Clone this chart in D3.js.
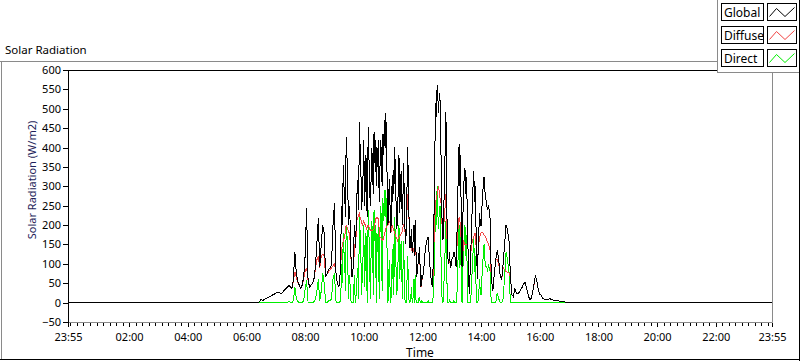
<!DOCTYPE html>
<html>
<head>
<meta charset="utf-8">
<script src="https://cdn.jsdelivr.net/npm/d3@7"></script>
<style>
  body { margin: 0; background: #fff; }
  svg text { font-family: "Noto Sans", sans-serif; }
</style>
</head>
<body>
<svg id="chart" width="800" height="361"></svg>
<script>
// samples logged every 3 minutes from 06:00, zero outside that window
const sampleStart = "06:00:00";
const sampleStepMin = 3;

const globalRad = [
  0,0,0,0,0,0,0,0,0,3,8,5,8,10,12,14,16,18,20,22,24,26,
  27,25,23,28,33,36,40,45,40,36,60,131,75,55,45,36,45,66,120,243,
  60,40,45,49,60,92,150,217,92,150,200,179,66,75,84,90,97,200,256,
  80,50,40,84,250,355,278,428,330,250,161,66,100,170,250,316,466,350,273,419,
  300,247,453,290,320,342,440,420,402,419,342,380,436,470,488,300,273,230,300,342,
  402,260,213,380,300,247,359,200,187,402,204,160,127,200,213,66,100,144,40,60,
  92,140,161,170,100,58,40,250,514,561,488,522,300,161,299,492,127,100,92,110,
  120,127,92,250,410,380,92,300,346,325,150,23,135,250,340,300,120,
  144,230,200,280,325,273,247,251,230,60,30,75,110,135,110,70,58,100,150,200,187,161,
  66,20,15,36,25,23,27,33,40,48,53,35,23,8,10,23,45,71,55,32,
  22,19,10,9,8,8,9,10,8,7,6,6,5,4,3,3,2,2,1,1,0
];

const diffuseRad = [
  0,0,0,0,0,0,0,0,0,3,8,5,8,10,12,14,16,18,20,22,24,26,
  27,25,23,28,33,36,40,44,40,36,55,80,65,52,45,36,45,60,80,90,
  58,40,45,49,58,85,110,120,90,120,125,120,66,75,80,85,90,95,100,
  80,50,40,80,140,160,170,200,190,180,150,66,100,150,210,220,230,215,200,210,
  200,190,200,190,185,185,190,215,220,215,170,165,160,175,190,200,205,210,200,190,
  180,170,160,170,175,180,200,190,187,280,204,150,127,140,140,66,100,130,40,60,
  92,140,160,165,100,58,40,170,260,280,300,270,250,161,220,280,127,100,92,110,
  120,127,92,180,220,200,92,160,150,150,150,23,130,160,170,180,120,
  140,170,180,180,175,170,160,150,140,60,30,75,110,110,100,70,58,90,85,80,78,77,
  66,20,15,36,25,23,27,33,40,48,53,35,23,8,10,23,45,68,55,32,
  22,19,10,9,8,8,9,10,8,7,6,6,5,4,3,3,2,2,1,1,0
];

const directRad = [
  0,0,0,0,0,0,0,0,0,0,0,0,0,0,0,0,0,0,0,0,0,0,
  0,0,0,0,0,1,1,2,1,0,5,40,10,3,0,0,0,5,35,58,
  2,0,0,0,2,8,30,60,5,30,75,50,0,0,5,5,10,60,75,
  5,0,0,5,100,180,110,200,130,70,10,0,0,20,40,90,230,130,70,200,
  100,50,240,100,130,160,240,200,180,200,170,210,270,290,290,100,70,20,100,150,
  220,90,50,200,120,60,160,10,0,120,0,10,0,60,70,0,0,15,0,0,
  0,0,0,5,0,0,0,80,250,300,190,250,50,0,80,210,0,0,0,0,
  0,0,0,70,200,180,0,150,200,175,0,0,10,90,170,120,0,
  5,60,20,100,150,100,90,100,90,0,0,0,0,25,10,0,0,10,65,130,110,80,
  0,0,0,0,0,0,0,0,0,0,0,0,0,0,0,0,0,0,0,0,
  0,0,0,0,0,0,0,0,0,0,0,0,0,0,0,0,0,0,0,0,0
];

// extra samples in the busy midday stretch, half a step after the main ones
const midStart = "09:04:30";
const globalMid = [
  60,45,55,180,200,300,220,380,200,230,
  90,80,200,140,290,240,400,240,330,250,
  380,220,380,250,400,280,360,300,350,260,
  420,300,380,400,420,200,320,180,260,280,
  350,190,300,230,340,200,300,150,300,260,
  140,190,150,120,150,80,120,80,70,
  75,115,150,165,130,75,
  45,150,400,480,530,540,420,180,240,400,
  300,110,130,95,115,130,105,170,350,300,
  200,200,320,280,250,60,80,200,300,260,
  200,60,190,200,240,300,290,260,240,240,
  140
];
const diffuseMid = [
  60,45,55,110,150,165,185,195,185,165,
  90,80,125,140,215,225,220,210,205,205,
  195,195,195,188,185,188,200,218,218,190,
  168,162,168,182,195,200,208,180,200,185,
  175,165,165,172,178,190,195,150,240,240,
  140,150,140,120,140,80,110,80,60,
  75,115,150,165,130,75,
  45,110,220,270,290,285,260,180,200,250,
  200,110,115,95,115,125,105,140,200,210,
  150,120,155,150,150,60,80,145,165,175,
  150,60,155,175,180,178,172,165,155,145,
  100
];
const directMid = [
  0,0,0,40,50,130,30,180,10,60,
  0,0,70,0,70,10,180,20,120,40,
  180,0,180,10,210,20,160,0,130,10,
  250,30,210,220,230,0,110,0,60,20,
  170,20,130,60,160,10,100,0,60,20,
  0,40,5,0,10,0,10,0,5,
  0,0,0,0,0,0,
  0,30,170,200,230,240,150,0,40,140,
  100,0,10,0,0,5,0,20,150,90,
  40,70,160,120,90,0,0,50,130,80,
  50,0,30,20,60,120,110,90,80,90,
  30
];

const seriesNames = ["Global", "Diffuse", "Direct"];
const seriesColors = ["#000000", "#f24444", "#00ee00"];
const yTickValues = [-50, 0, 50, 100, 150, 200, 250, 300, 350, 400, 450, 500, 550, 600];
const xTickLabels = ["23:55", "02:00", "04:00", "06:00", "08:00", "10:00", "12:00",
                     "14:00", "16:00", "18:00", "20:00", "22:00", "23:55"];

const parse = d3.timeParse("%Y-%m-%d %H:%M:%S");
const tStart = parse("2000-01-01 23:55:00");
const tEnd = parse("2000-01-02 23:55:00");
const t0 = parse("2000-01-02 " + sampleStart);
const tMid = parse("2000-01-02 " + midStart);

function buildSeries(values, mids) {
  const pts = [{ t: tStart, v: 0 }, { t: tEnd, v: 0 }];
  values.forEach((v, i) => pts.push({ t: d3.timeSecond.offset(t0, i * sampleStepMin * 60), v: v }));
  mids.forEach((v, i) => pts.push({ t: d3.timeSecond.offset(tMid, i * sampleStepMin * 60), v: v }));
  return pts.sort((a, b) => a.t - b.t);
}

const series = [
  buildSeries(globalRad, globalMid),
  buildSeries(diffuseRad, diffuseMid),
  buildSeries(directRad, directMid)
];

const plot = { left: 68, right: 772, top: 70, bottom: 322 };

const svg = d3.select("#chart");

const x = d3.scaleTime().domain([tStart, tEnd]).range([plot.left, plot.right]);
const y = d3.scaleLinear().domain([-50, 600]).range([plot.bottom, plot.top]);

// outer panel frame
svg.append("line").attr("x1", 0).attr("x2", 717).attr("y1", 61.5).attr("y2", 61.5).attr("stroke", "#8a8a8a");
svg.append("line").attr("x1", 1.5).attr("x2", 1.5).attr("y1", 61).attr("y2", 360).attr("stroke", "#8a8a8a");
svg.append("line").attr("x1", 0).attr("x2", 800).attr("y1", 359.5).attr("y2", 359.5).attr("stroke", "#000");
svg.append("line").attr("x1", 799.5).attr("x2", 799.5).attr("y1", 0).attr("y2", 361).attr("stroke", "#000");

svg.append("text").attr("x", 5).attr("y", 54).attr("font-size", "11.5px").attr("fill", "#000").text("Solar Radiation");

// plot border: gray right/bottom, black top/left
svg.append("line").attr("x1", plot.right + 0.5).attr("x2", plot.right + 0.5).attr("y1", plot.top).attr("y2", plot.bottom + 0.5).attr("stroke", "#8a8a8a");
svg.append("line").attr("x1", plot.left).attr("x2", plot.right + 0.5).attr("y1", plot.bottom + 0.5).attr("y2", plot.bottom + 0.5).attr("stroke", "#8a8a8a");
svg.append("line").attr("x1", plot.left).attr("x2", plot.right + 1).attr("y1", plot.top + 0.5).attr("y2", plot.top + 0.5).attr("stroke", "#000");

svg.append("clipPath").attr("id", "plotClip")
  .append("rect").attr("x", plot.left).attr("y", plot.top).attr("width", plot.right - plot.left).attr("height", plot.bottom - plot.top);

const line = d3.line().x(d => x(d.t)).y(d => y(d.v));

const drawOrder = [2, 1, 0]; // direct under diffuse under global
const lines = svg.append("g").attr("clip-path", "url(#plotClip)");
drawOrder.forEach(k => {
  lines.append("path")
    .datum(series[k])
    .attr("fill", "none")
    .attr("stroke", seriesColors[k])
    .attr("stroke-width", 1)
    .attr("shape-rendering", "crispEdges")
    .attr("d", line);
});

// y axis
const yAxis = svg.append("g")
  .attr("transform", `translate(${plot.left},0)`)
  .call(d3.axisLeft(y).tickValues(yTickValues).tickSize(5).tickPadding(2));
yAxis.select(".domain").remove();
yAxis.selectAll("line").attr("stroke", "#000").attr("shape-rendering", "crispEdges");
yAxis.selectAll("text").attr("font-size", "11px").attr("fill", "#000").attr("font-family", "Noto Sans");
svg.append("line").attr("x1", plot.left + 0.5).attr("x2", plot.left + 0.5).attr("y1", plot.top).attr("y2", plot.bottom + 3).attr("stroke", "#000");

// x axis: labelled every 2 h, minor ticks every 2h/9
const majorTicks = xTickLabels.map((lab, i) => {
  if (i === 0) return tStart;
  if (i === xTickLabels.length - 1) return tEnd;
  return parse("2000-01-02 " + lab + ":00");
});
const minorTicks = d3.range(0, 24 * 60, 40 / 3)
  .map(m => d3.timeSecond.offset(parse("2000-01-02 00:00:00"), Math.round(m * 60)))
  .filter(t => t < tEnd);

const xMinor = svg.append("g")
  .attr("transform", `translate(0,${plot.bottom + 1})`)
  .call(d3.axisBottom(x).tickValues(minorTicks).tickSize(3).tickFormat(""));
xMinor.select(".domain").remove();
xMinor.selectAll("line").attr("stroke", "#000").attr("shape-rendering", "crispEdges");

const xMajor = svg.append("g")
  .attr("transform", `translate(0,${plot.bottom + 1})`)
  .call(d3.axisBottom(x).tickValues(majorTicks).tickSize(4).tickPadding(6)
    .tickFormat((d, i) => xTickLabels[i]));
xMajor.select(".domain").remove();
xMajor.selectAll("line").attr("stroke", "#000").attr("shape-rendering", "crispEdges");
xMajor.selectAll("text").attr("font-size", "11px").attr("fill", "#000").attr("font-family", "Noto Sans");

svg.append("text")
  .attr("x", (plot.left + plot.right) / 2).attr("y", 357)
  .attr("text-anchor", "middle").attr("font-size", "12px").attr("fill", "#000")
  .text("Time");

svg.append("text")
  .attr("transform", "translate(36,180) rotate(-90)")
  .attr("text-anchor", "middle").attr("font-size", "11px").attr("fill", "#1e1e5a")
  .text("Solar Radiation (W/m2)");

// legend, drawn over the top-right corner of the plot
const legend = svg.append("g");
legend.append("rect").attr("x", 717).attr("y", 0).attr("width", 83).attr("height", 72).attr("fill", "#fff");
legend.append("line").attr("x1", 717.5).attr("x2", 717.5).attr("y1", 0).attr("y2", 72).attr("stroke", "#8a8a8a");
legend.append("line").attr("x1", 717).attr("x2", 800).attr("y1", 72.5).attr("y2", 72.5).attr("stroke", "#8a8a8a");
legend.append("line").attr("x1", 799.5).attr("x2", 799.5).attr("y1", 0).attr("y2", 73).attr("stroke", "#000");

seriesNames.forEach((name, i) => {
  const top = 3.5 + i * 23;
  legend.append("rect").attr("x", 721.5).attr("y", top).attr("width", 42).attr("height", 17)
    .attr("fill", "#fff").attr("stroke", "#000");
  legend.append("text").attr("x", 724).attr("y", top + 13).attr("font-size", "12px").attr("fill", "#000").text(name);
  legend.append("rect").attr("x", 767.5).attr("y", top).attr("width", 29).attr("height", 17)
    .attr("fill", "#fff").attr("stroke", "#000");
  legend.append("polyline")
    .attr("points", [[2, 13], [9, 5], [17.5, 13], [27, 4]].map(p => [767.5 + p[0], top + p[1]].join(",")).join(" "))
    .attr("fill", "none").attr("stroke", seriesColors[i]).attr("stroke-width", 1);
});
</script>
</body>
</html>
